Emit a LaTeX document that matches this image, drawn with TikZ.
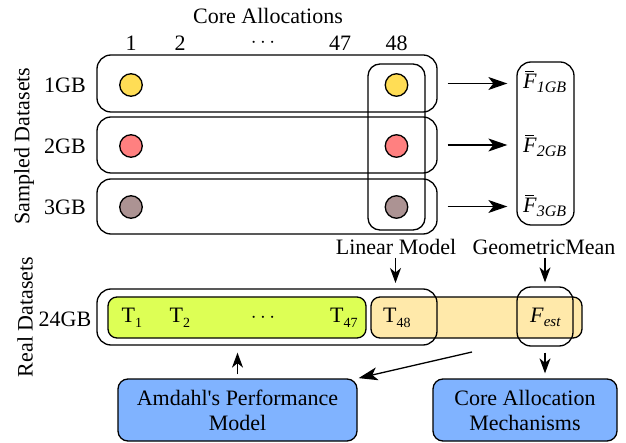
\documentclass[tikz,border=0pt]{standalone}
\usepackage{fontspec}
\setmainfont{Liberation Serif}
\usetikzlibrary{arrows.meta}
\definecolor{dotY}{HTML}{FFDD55}
\definecolor{dotR}{HTML}{FF8080}
\definecolor{dotG}{HTML}{AC9393}
\definecolor{barG}{HTML}{DDFF55}
\definecolor{barY}{HTML}{FFE9AA}
\definecolor{boxB}{HTML}{80B3FF}
\newcommand\tsub[1]{\raisebox{-5pt}{\fontsize{14}{15}\selectfont #1}}
\newcommand\fsub[1]{\raisebox{-4pt}{\fontsize{16}{17}\selectfont\itshape #1}}
\newcommand\Fbar{\rlap{\hspace{2pt}\raisebox{17pt}{\rule{9pt}{1pt}}}\textit{F}}
\begin{document}
\begin{tikzpicture}[x=1pt,y=-1pt,
  big/.style={font=\fontsize{22}{24}\selectfont, inner sep=0pt},
  frame/.style={draw=black, line width=1.3pt, rounded corners=14pt, inner sep=0pt},
  bar/.style={draw=black, line width=1.3pt, rounded corners=9pt, inner sep=0pt},
  dotc/.style={circle, draw=black, line width=1.3pt, minimum size=22.5pt, inner sep=0pt},
  bluebox/.style={draw=black, line width=1.3pt, fill=boxB, rounded corners=10pt, inner sep=0pt, align=center, font=\fontsize{22}{25}\selectfont},
  arr/.style={-{Stealth[length=19pt,width=13pt,inset=5pt]}, line width=1.3pt},
  sarr/.style={-{Stealth[length=15pt,width=11pt,inset=4.5pt]}, line width=1.3pt}
]
\useasboundingbox (0,0) rectangle (626,443);

% top labels
\node[big] (ca) at (268,16) {Core Allocations};
\node[big] (c1) at (131,43) {1};
\node[big] (c2) at (180,43) {2};
\node[big] (cd) at (263,43) {$\cdots$};
\node[big] (c47) at (340,43) {47};
\node[big] (c48) at (396.5,43) {48};

\node[big, rotate=90] (sd) at (24,146) {Sampled Datasets};
\node[big] (l1) at (65,85) {1GB};
\node[big] (l2) at (65,146) {2GB};
\node[big] (l3) at (65,207) {3GB};

% row frames
\node[frame, minimum width=340pt, minimum height=57pt] (r1) at (267,83.5) {};
\node[frame, minimum width=340pt, minimum height=56pt] (r2) at (267,145) {};
\node[frame, minimum width=340pt, minimum height=55pt] (r3) at (267,206.5) {};
% column frame
\node[frame, rounded corners=12pt, minimum width=57pt, minimum height=166pt] (col) at (396.5,147) {};

% dots
\node[dotc, fill=dotY] (a1) at (131,85) {};
\node[dotc, fill=dotY] (a48) at (396.5,85) {};
\node[dotc, fill=dotR] (b1) at (131,146) {};
\node[dotc, fill=dotR] (b48) at (396.5,146) {};
\node[dotc, fill=dotG] (d1) at (131,207) {};
\node[dotc, fill=dotG] (d48) at (396.5,207) {};

% F box
\node[frame, minimum width=57pt, minimum height=163pt] (fbox) at (545.5,143.5) {};
\node[big, anchor=base west] (f1) at (523,89) {\Fbar\fsub{1GB}};
\node[big, anchor=base west] (f2) at (523,153) {\Fbar\fsub{2GB}};
\node[big, anchor=base west] (f3) at (523,213) {\Fbar\fsub{3GB}};

\draw[arr, shorten <=10pt, shorten >=9pt] (r1.east) -- (r1.east -| fbox.west);
\draw[arr, shorten <=10pt, shorten >=9pt] (r2.east) -- (r2.east -| fbox.west);
\draw[arr, shorten <=10pt, shorten >=9pt] (r3.east) -- (r3.east -| fbox.west);

% middle labels
\node[big] (lm) at (396,247) {Linear Model};
\node[big] (gm) at (544,247) {GeometricMean};

% bottom bars
\node[big, rotate=90] (rd) at (25,317) {Real Datasets};
\node[big] (l24) at (65,319) {24GB};

\node[bar, fill=barY, minimum width=211pt, minimum height=41pt] (ybar) at (476.5,317.5) {};
\node[bar, fill=barG, minimum width=258pt, minimum height=41pt] (gbar) at (237,317.5) {};
\node[frame, minimum width=340pt, minimum height=56pt] (outer) at (267,317) {};
\node[frame, minimum width=56pt, minimum height=59pt] (fest) at (545,316.5) {};

\node[big, anchor=base west] (t1) at (121.5,323) {T\tsub{1}};
\node[big, anchor=base west] (t2) at (169.5,323) {T\tsub{2}};
\node[big] (td) at (263,318) {$\cdots$};
\node[big, anchor=base west] (t47) at (330,323) {T\tsub{47}};
\node[big, anchor=base west] (t48) at (383,323) {T\tsub{48}};
\node[big, anchor=base west] (fe) at (530,323) {\textit{F}\fsub{\fontsize{15}{16}\selectfont est}};

% blue boxes
\node[bluebox, minimum width=239pt, minimum height=62pt] (amd) at (237.5,410) {Amdahl\textquotesingle s Performance\\Model};
\node[bluebox, minimum width=184pt, minimum height=62pt] (cam) at (525,410) {Core Allocation\\Mechanisms};

% arrows
\coordinate (lmt) at (395.5,283);
\draw[sarr, shorten <=3pt] (lm.south -| lmt) -- (lmt);
\draw[sarr, shorten <=3pt, shorten >=4pt] (gm.south -| fest) -- (fest.north);
\draw[sarr, shorten <=6pt, shorten >=5pt] (fest.south) -- (cam.north -| fest);
\draw[sarr, shorten <=4pt, shorten >=14pt] (amd.north) -- (gbar.south -| amd.north);
\coordinate (dstart) at (472,352);
\draw[arr, shorten >=1pt] (dstart) -- (amd.north east);
\end{tikzpicture}
\end{document}
